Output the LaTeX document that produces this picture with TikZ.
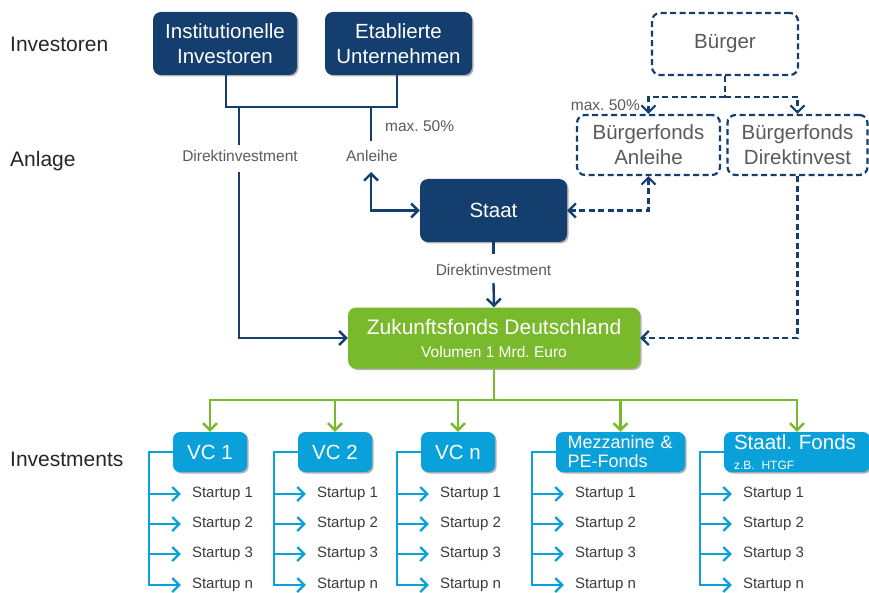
\documentclass[tikz,border=0pt]{standalone}
\usepackage{fontspec}
\setmainfont{Liberation Sans}
\usetikzlibrary{arrows.meta,shadows,calc}
\definecolor{navy}{HTML}{133E6E}
\definecolor{lblue}{HTML}{0AA0D9}
\definecolor{fgreen}{HTML}{79B92C}
\definecolor{lblgray}{HTML}{5A5A5A}
\definecolor{stgray}{HTML}{3C3C3C}
\newcommand{\fsz}[2]{\fontsize{#1}{#2}\selectfont}
\frenchspacing
\begin{document}
\begin{tikzpicture}[x=1pt,y=-1pt,
  shadowed/.style={drop shadow={shadow xshift=1.5pt,shadow yshift=-1.5pt,opacity=0.3,fill=black}},
  navybox/.style={rectangle,rounded corners=8pt,fill=navy,text=white,align=center,inner sep=0pt,shadowed,font=\fsz{20.5}{25}},
  dashbox/.style={rectangle,rounded corners=8pt,draw=navy,fill=white,line width=2.2pt,dash pattern=on 6pt off 3.5pt,text=lblgray,align=center,inner sep=0pt,font=\fsz{20.5}{25}},
  greenbox/.style={rectangle,rounded corners=8pt,fill=fgreen,text=white,align=center,inner sep=0pt,shadowed},
  bluebox/.style={rectangle,rounded corners=7pt,fill=lblue,text=white,inner sep=0pt,shadowed,minimum height=40pt},
  lab/.style={text=lblgray,font=\fsz{15.5}{18},inner sep=2pt},
  side/.style={anchor=base west,text=black!85,font=\fsz{21}{24},inner sep=0pt},
  startup/.style={anchor=west,text=stgray,font=\fsz{15}{18},inner xsep=11pt,inner ysep=0pt},
  nline/.style={draw=navy,line width=2.4pt},
  dline/.style={draw=navy,line width=2.2pt,dash pattern=on 6pt off 3.5pt},
  gline/.style={draw=fgreen,line width=2.4pt},
  bline/.style={draw=lblue,line width=2.2pt},
  arrowone/.style={-{Straight Barb[length=7pt,width=14pt]}},
  arrowtwo/.style={{Straight Barb[length=7pt,width=14pt]}-{Straight Barb[length=7pt,width=14pt]}},
]
\useasboundingbox (0,0) rectangle (869,593);

% side labels
\node[side] (lInv) at (10,52) {Investoren};
\node[side] (lAnl) at (10,167) {Anlage};
\node[side] (lIvm) at (10,466) {Investments};

% investor boxes
\node[navybox,minimum width=144pt,minimum height=63pt] (inst) at (225,43.5) {Institutionelle\\Investoren};
\node[navybox,minimum width=147pt,minimum height=63pt] (etab) at (398.5,43.5) {Etablierte\\Unternehmen};
\node[navybox,minimum width=147pt,minimum height=63pt] (staat) at (493.5,210.5) {Staat};

% citizen boxes
\node[dashbox,minimum width=146pt,minimum height=62pt] (buerger) at (725,44) {Bürger};
\node[dashbox,minimum width=143pt,minimum height=60pt] (bfa) at (648.5,145) {Bürgerfonds\\Anleihe};
\node[dashbox,minimum width=140pt,minimum height=60pt] (bfd) at (797.5,145) {Bürgerfonds\\Direktinvest};

% fund
\node[greenbox,minimum width=292pt,minimum height=61pt,font=\fsz{21}{23}] (zf) at (494,338)
  {Zukunftsfonds Deutschland\\{\fsz{15.5}{23}Volumen 1 Mrd.\ Euro}};

% labels
\node[lab] (d1) at (240,156) {Direktinvestment};
\node[lab] (anl) at (372,156) {Anleihe};
\node[lab,anchor=west,inner sep=0pt] (m1) at (385,126) {max.\ 50\%};
\node[lab] (d2) at (493.5,270) {Direktinvestment};
\node[lab,anchor=east,inner sep=0pt] (m2) at (640,105) {max.\ 50\%};

% investor connectors
\coordinate (jl) at (226,107);
\coordinate (jr) at (397,107);
\draw[nline] (inst.south -| jl) -- (jl) -- (jr) -- (etab.south -| jr);
\coordinate (jd) at (239,107);
\coordinate (jde) at (239,145);
\coordinate (jds) at (239,172);
\draw[nline] (jd) -- (jde);
\draw[nline,arrowone] (jds) |- (zf.west);
\coordinate (ja) at (371,107);
\coordinate (jae) at (371,141);
\coordinate (jas) at (371,172);
\draw[nline] (ja) -- (jae);
\draw[nline,arrowtwo] (jas) |- (staat.west);
\coordinate (sd) at (493.5,254);
\coordinate (sa) at (493.5,283);
\draw[nline] (staat.south) -- (sd);
\draw[nline,arrowone] (sa) -- (zf.north);

% citizen connectors
\coordinate (bj) at (725,97);
\draw[dline] (buerger.south) -- (bj);
\draw[dline,arrowone] (bj) -| (bfa.north);
\draw[dline,arrowone] (bj) -| (bfd.north);
\draw[dline,arrowtwo] (bfa.south) |- (staat.east);
\draw[dline,arrowone] (bfd.south) |- (zf.east);

% investment boxes
\node[bluebox,minimum width=74pt,font=\fsz{20.5}{24}] (vc1) at (210,452) {VC 1};
\node[bluebox,minimum width=74pt,font=\fsz{20.5}{24}] (vc2) at (335,452) {VC 2};
\node[bluebox,minimum width=74pt,font=\fsz{20.5}{24}] (vcn) at (458,452) {VC n};
\node[bluebox,minimum width=129pt,font=\fsz{18}{19},align=left,text width=106pt] (mez) at (620.5,452) {Mezzanine \&\\PE-Fonds};
\node[bluebox,minimum width=146pt,font=\fsz{20.5}{21},align=left,text width=126pt] (stf) at (797,452) {Staatl.\ Fonds\\[-1pt]{\fsz{12}{12}z.B.\ HTGF}};

% green connectors
\coordinate (g0) at (494,400);
\foreach \n in {vc1,vc2,vcn,mez,stf} {
  \draw[gline,arrowone] (zf.south) |- (\n.north |- g0) -- (\n.north);
}

% startup trees
\foreach \n in {vc1,vc2,vcn,mez,stf} {
  \coordinate (\n-t) at ($(\n.west)+(-24,0)$);
  \foreach \i/\yy/\s in {1/494/1,2/524/2,3/554/3,4/585/n} {
    \node[startup] (\n-s\i) at ($(\n-t |- 0,\yy)+(32,0)$) {Startup \s};
  }
  \draw[bline,arrowone] (\n.west) -- (\n-t) |- (\n-s4.west);
  \foreach \i in {1,2,3} {
    \draw[bline,arrowone] (\n-t |- \n-s\i.west) -- (\n-s\i.west);
  }
}
\end{tikzpicture}
\end{document}
